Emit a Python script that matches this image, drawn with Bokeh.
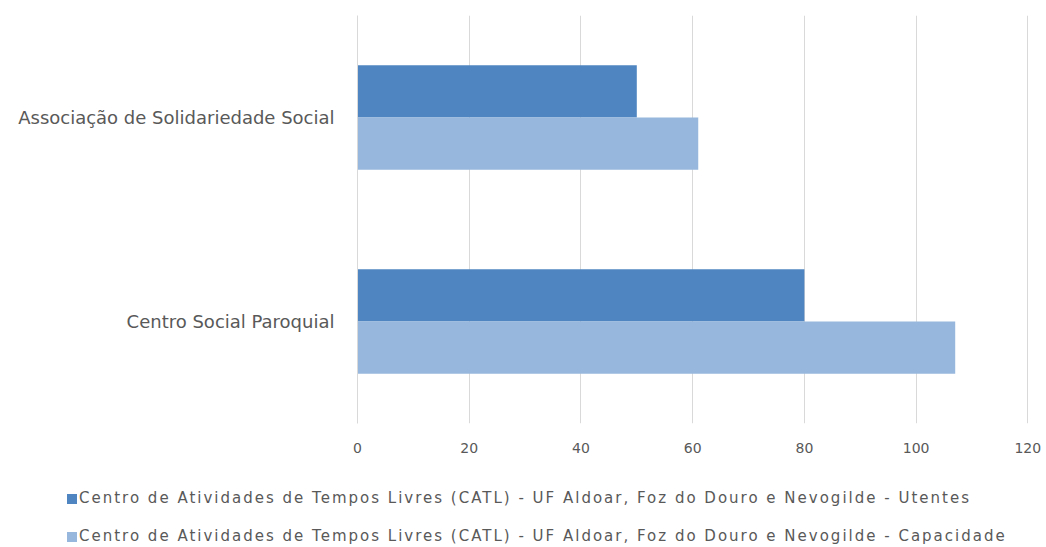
from bokeh.plotting import figure
from bokeh.layouts import column
from bokeh.models import ColumnDataSource, Range1d, FactorRange, FixedTicker, Div
from bokeh.transform import dodge
from bokeh.embed import file_html
from bokeh.resources import INLINE

categories = ["Centro Social Paroquial", "Associação de Solidariedade Social"]
utentes = [80, 50]
capacidade = [107, 61]
x_ticks = [0, 20, 40, 60, 80, 100, 120]
series_names = [
    "Centro de Atividades de Tempos Livres (CATL) - UF Aldoar, Foz do Douro e Nevogilde - Utentes",
    "Centro de Atividades de Tempos Livres (CATL) - UF Aldoar, Foz do Douro e Nevogilde - Capacidade",
]
colors = ["#4f86c1", "#97b7dd"]

src = ColumnDataSource(dict(cat=categories, ut=utentes, cap=capacidade))

FONT = "DejaVu Sans"
TXT = "#595959"

# main chart
p = figure(width=1046, height=465, output_backend="svg", toolbar_location=None,
           x_range=Range1d(0, 120.3), y_range=FactorRange(factors=categories, range_padding=0),
           min_border_left=357, min_border_right=17, min_border_top=15, min_border_bottom=42)
p.outline_line_color = None

p.hbar(y=dodge("cat", 0.128, range=p.y_range), right="ut", left=0, height=0.256,
       source=src, fill_color=colors[0], line_color=None)
p.hbar(y=dodge("cat", -0.128, range=p.y_range), right="cap", left=0, height=0.256,
       source=src, fill_color=colors[1], line_color=None)

p.xaxis.ticker = FixedTicker(ticks=x_ticks)
p.xaxis.axis_line_color = None
p.xaxis.major_tick_line_color = None
p.xaxis.minor_tick_line_color = None
p.xaxis.major_label_standoff = 13
p.xaxis.major_label_text_font = FONT
p.xaxis.major_label_text_font_size = "14px"
p.xaxis.major_label_text_color = TXT

p.yaxis.axis_line_color = "#d9d9d9"
p.yaxis.major_tick_line_color = None
p.yaxis.minor_tick_line_color = None
p.yaxis.major_label_standoff = 17
p.yaxis.major_label_text_font = FONT
p.yaxis.major_label_text_font_size = "18px"
p.yaxis.major_label_text_color = TXT

p.xgrid.grid_line_color = "#d9d9d9"
p.ygrid.grid_line_color = None

# legend strip (HTML text)
rows_html = ""
for i, (name, col) in enumerate(zip(series_names, colors)):
    top = 24 + i * 38
    rows_html += (
        f'<div style="position:absolute;left:67px;top:{top}px;height:20px;'
        f'display:flex;align-items:center;white-space:nowrap;">'
        f'<span style="display:inline-block;width:10px;height:10px;background:{col};'
        f'margin-right:2px;"></span><span>{name}</span></div>'
    )
legend_div = Div(
    text=(f'<div style="position:relative;width:1046px;height:82px;font-family:\'{FONT}\';'
          f'font-size:15px;color:{TXT};letter-spacing:2px;">{rows_html}</div>'),
    width=1046, height=82, margin=(0, 0, 0, 0),
)

layout = column(p, legend_div, spacing=0)
open("out.html", "w").write(file_html(layout, INLINE))
